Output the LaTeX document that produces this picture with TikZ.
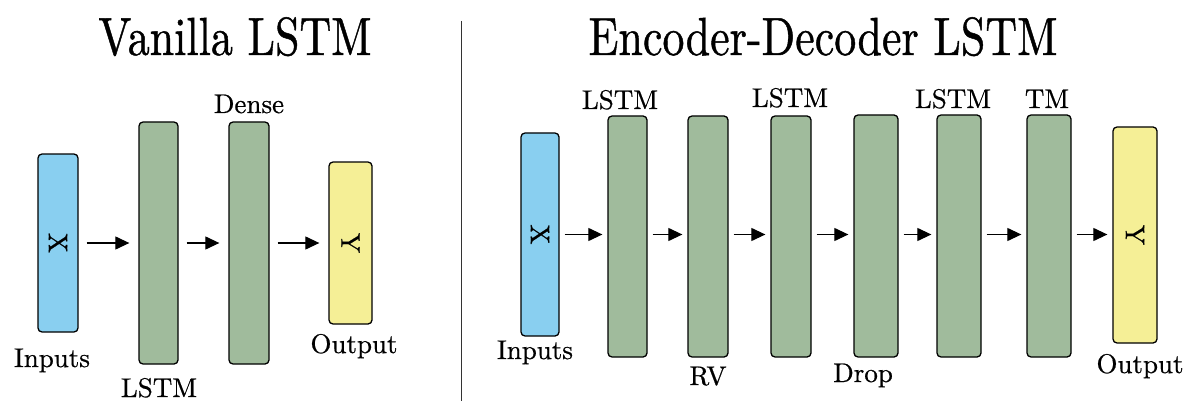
\documentclass[tikz,border=0pt]{standalone}
\usepackage{fontspec}
\newfontfamily\heavylm{lmroman10-regular.otf}[FakeBold=0.6]
\newfontfamily\heavylmt{lmroman10-regular.otf}[FakeBold=0.9]
\usetikzlibrary{arrows.meta}
\definecolor{bxblue}{RGB}{137,207,240}
\definecolor{bxgreen}{RGB}{160,187,156}
\definecolor{bxyellow}{RGB}{245,239,150}
\begin{document}
\begin{tikzpicture}[x=1pt,y=-1pt,
  blk/.style={draw=black,line width=1.3pt,rounded corners=4pt,inner sep=0pt},
  inbox/.style={blk,fill=bxblue},
  gbox/.style={blk,fill=bxgreen},
  outbox/.style={blk,fill=bxyellow},
  lbl/.style={inner sep=0pt,anchor=base,font=\heavylm\fontsize{27}{30}\selectfont},
  sym/.style={inner sep=0pt,rotate=-90,font=\heavylm\fontsize{27}{30}\selectfont},
  ttl/.style={inner sep=0pt,anchor=base,font=\heavylmt\fontsize{44}{50}\selectfont,yscale=1.22},
  arr/.style={line width=1.2pt,-{Triangle[length=14pt,width=13pt]}},
  larr/.style={arr,shorten <=8pt,shorten >=9pt},
  rarr/.style={arr,shorten <=5pt,shorten >=5pt}]
\useasboundingbox (0,0) rectangle (1188,401);
% titles and divider
\node[ttl] (t1) at (235,55) {Vanilla LSTM};
\node[ttl] (t2) at (823,55) {Encoder-Decoder LSTM};
\coordinate (d1) at (461,21);
\coordinate (d2) at (461,401);
\draw[line width=1pt,black!80] (d1) -- (d2);
% left
\node[inbox,minimum width=40pt,minimum height=178pt] (lx) at (58,243) {};
\node[gbox,minimum width=39pt,minimum height=242pt] (ll) at (158.5,243) {};
\node[gbox,minimum width=40pt,minimum height=242pt] (ld) at (249,243) {};
\node[outbox,minimum width=43pt,minimum height=162pt] (ly) at (350.5,243) {};
\node[sym] (lxs) at (lx) {X};
\node[sym] (lys) at (ly) {Y};
\draw[larr] (lx.east) -- (lx.east -| ll.west);
\draw[larr] (ll.east) -- (ll.east -| ld.west);
\draw[larr] (ld.east) -- (ld.east -| ly.west);
\node[lbl] (li) at (52,367) {Inputs};
\node[lbl] (lL) at (159,397) {LSTM};
\node[lbl] (lD) at (249,113) {Dense};
\node[lbl] (lO) at (354,353) {Output};
% right
\node[inbox,minimum width=38pt,minimum height=203pt] (rx) at (540,234.5) {};
\node[gbox,minimum width=39pt,minimum height=241pt] (r1) at (627.5,236.5) {};
\node[gbox,minimum width=40pt,minimum height=241pt] (r2) at (708,236.5) {};
\node[gbox,minimum width=40pt,minimum height=241pt] (r3) at (791,236.5) {};
\node[gbox,minimum width=44pt,minimum height=242pt] (r4) at (876,236) {};
\node[gbox,minimum width=44pt,minimum height=242pt] (r5) at (959,236) {};
\node[gbox,minimum width=44pt,minimum height=242pt] (r6) at (1049,236) {};
\node[outbox,minimum width=44pt,minimum height=216pt] (ry) at (1135,235) {};
\node[sym] (rxs) at (rx) {X};
\node[sym] (rys) at (ry) {Y};
\draw[rarr] (rx.east) -- (rx.east -| r1.west);
\draw[rarr] (rx.east -| r1.east) -- (rx.east -| r2.west);
\draw[rarr] (rx.east -| r2.east) -- (rx.east -| r3.west);
\draw[rarr] (rx.east -| r3.east) -- (rx.east -| r4.west);
\draw[rarr] (rx.east -| r4.east) -- (rx.east -| r5.west);
\draw[rarr] (rx.east -| r5.east) -- (rx.east -| r6.west);
\draw[rarr] (rx.east -| r6.east) -- (rx.east -| ry.west);
\node[lbl] (ri) at (535,359) {Inputs};
\node[lbl] (rL1) at (620,109) {LSTM};
\node[lbl] (rR) at (708,385) {RV};
\node[lbl] (rL2) at (790,107) {LSTM};
\node[lbl] (rD) at (863,382) {Drop};
\node[lbl] (rL3) at (953,108) {LSTM};
\node[lbl] (rT) at (1047,108) {TM};
\node[lbl] (rO) at (1140,373) {Output};
\end{tikzpicture}
\end{document}
